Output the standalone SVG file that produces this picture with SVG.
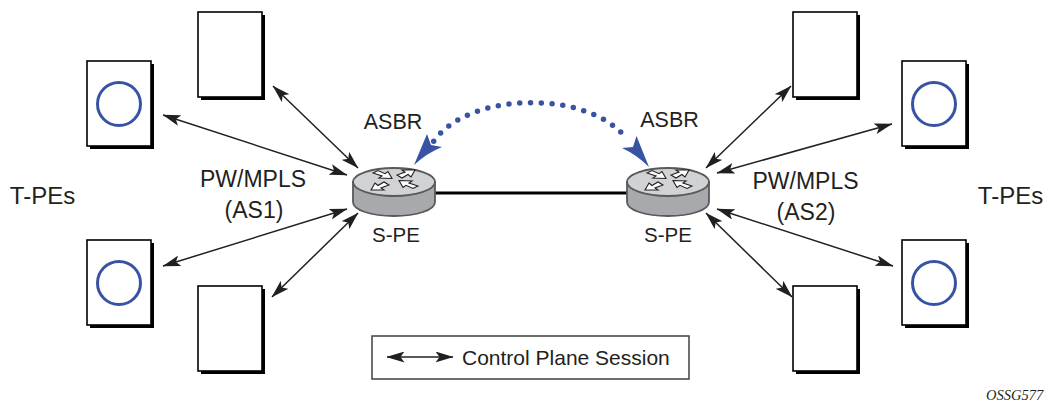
<svg xmlns="http://www.w3.org/2000/svg" width="1054" height="402" viewBox="0 0 1054 402">
<style>
text{font-family:"Liberation Sans",Arial,sans-serif;font-size:23px;fill:#231f20}
.t{text-anchor:middle}
.a{font-size:21.500px}
.s{font-size:20.500px}
.p{font-size:24px}
.doc{fill:#fff;stroke:#000;stroke-width:1.600}
.sh{fill:#000}
.c{fill:none;stroke:#3953a4;stroke-width:3}
.cn{stroke:#231f20;stroke-width:1.500;fill:none;marker-start:url(#a);marker-end:url(#a)}
.top{fill:#d1d2d6;stroke:#58595b;stroke-width:1.800}
.side{fill:#a7a9ac;stroke:#58595b;stroke-width:1.800}
.ra{fill:#fff;stroke:#231f20;stroke-width:1.100;stroke-linejoin:miter}
.bl{fill:#3953a4}
</style>
<defs>
<marker id="a" viewBox="0 0 18 11" refX="17.500" refY="5.500" markerWidth="18" markerHeight="11" markerUnits="userSpaceOnUse" orient="auto-start-reverse"><path d="M0 0L18 5.500L0 11L4 5.500Z" fill="#231f20"/></marker>
<g id="doc"><rect class="sh" x="3" y="3" width="64" height="85"/><rect class="doc" width="64" height="85"/></g>
<g id="docc"><use href="#doc"/><circle class="c" cx="32" cy="43" r="21.500"/></g>
<g id="router">
<path class="side" d="M-41 0V20C-41 28 -23 34 0 34S41 28 41 20V0Z"/>
<ellipse class="top" cx="0" cy="0" rx="41" ry="14"/>
<path class="ra" d="M-21 -9L-16 -11.500L-9 -8.300L-6 -10.500L-2 -3.500L-15 -4L-12 -6Z"/>
<path class="ra" d="M3 -7L8 -4L14 -7.500L17 -5L21 -12L8 -12L11 -10Z"/>
<path class="ra" d="M-5 3L-10 0L-16 3.500L-19 1L-23 8L-10 8L-13 6Z"/>
<path class="ra" d="M24 4L19 6.500L12 3.300L9 5.500L5 -1.500L18 -1L15 1Z"/>
</g>
</defs>
<g id="connectors">
<path class="cn" d="M273 86L358 168"/>
<path class="cn" d="M163 115L347 175"/>
<path class="cn" d="M163 266L347 209"/>
<path class="cn" d="M272 297L358 213"/>
<path class="cn" d="M791 86L706 168"/>
<path class="cn" d="M892 124L717 173"/>
<path class="cn" d="M893 266L717 209"/>
<path class="cn" d="M792 297L706 213"/>
<path d="M435 193H627" stroke="#000" stroke-width="3" fill="none"/>
<path d="M433.700 141.300C470 89.900 592 89.900 627.700 140.300" fill="none" stroke="#3953a4" stroke-width="5.500" stroke-linecap="round" pathLength="200" stroke-dasharray="0 10"/>
<path class="bl" d="M414 165L427 134L431 145L442 147Q427 153 414 165Z"/>
<path class="bl" d="M649 167L636.500 136L633 147L622 148Q637 155 649 167Z"/>
</g>
<g id="pe1"><use href="#doc" x="198" y="12"/></g>
<g id="pe2"><use href="#docc" x="87" y="61"/></g>
<g id="pe3"><use href="#docc" x="87" y="240"/></g>
<g id="pe4"><use href="#doc" x="198" y="286"/></g>
<g id="pe5"><use href="#doc" x="793" y="12"/></g>
<g id="pe6"><use href="#docc" x="902" y="61"/></g>
<g id="pe7"><use href="#docc" x="902" y="240"/></g>
<g id="pe8"><use href="#doc" x="793" y="286"/></g>
<g id="spe1"><use href="#router" x="394" y="182"/><text class="t s" x="396" y="242">S-PE</text></g>
<g id="spe2"><use href="#router" x="668" y="182"/><text class="t s" x="668" y="242">S-PE</text></g>
<g id="labels">
<text class="t a" x="393" y="129">ASBR</text>
<text class="t a" x="669.500" y="127">ASBR</text>
<text class="t p" x="42.500" y="204">T-PEs</text>
<text class="t p" x="1010.500" y="204">T-PEs</text>
<text class="t" x="253" y="187">PW/MPLS</text>
<text class="t" x="254" y="218">(AS1)</text>
<text class="t" x="805.500" y="189">PW/MPLS</text>
<text class="t" x="806" y="220">(AS2)</text>
</g>
<g id="legend">
<rect x="372" y="336" width="317" height="43" fill="#fff" stroke="#414042" stroke-width="1.500"/>
<path d="M387 357H453" class="cn"/>
<text x="462" y="365" style="font-size:21px">Control Plane Session</text>
</g>
<text x="986" y="400" style="font-family:'Liberation Serif',serif;font-size:14.500px;font-style:italic">OSSG577</text>
</svg>
